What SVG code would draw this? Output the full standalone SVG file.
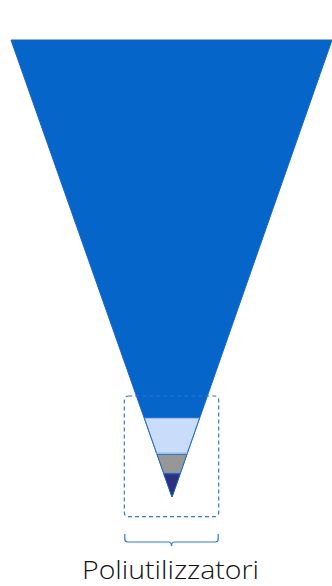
<svg xmlns="http://www.w3.org/2000/svg" width="332" height="586" viewBox="0 0 332 586">
<style>
.seg{stroke:#1565C8;stroke-width:1;stroke-linejoin:miter}
.box{fill:none;stroke:#2F78D2;stroke-width:1.2;stroke-dasharray:4 3}
.brace{fill:none;stroke:#2F78D2;stroke-width:1.2}
.lbl{font-family:"Open Sans","Liberation Sans",sans-serif;font-size:25px;fill:#111111;font-weight:300}
</style>
<rect width="332" height="586" fill="#ffffff"/>
<g id="funnel">
<polygon class="seg" points="11,40 332,40 172,497" fill="#0565C8"/>
<polygon points="144.3,417.8 199.6,417.8 187.2,453.3 156.7,453.3" fill="#C9DCFA" stroke="#1565C8" stroke-width="0.8"/>
<line x1="156.7" y1="453.6" x2="187.2" y2="453.6" stroke="#DDE8FA" stroke-width="1"/>
<polygon points="157,454.2 187,454.2 180.3,473.4 163.8,473.4" fill="#979797" stroke="#1565C8" stroke-width="0.8"/>
<polygon points="163.8,474 180.1,474 172,497" fill="#2E3180" stroke="#1565C8" stroke-width="0.8"/>
</g>
<g id="group-box">
<rect class="box" x="124.3" y="396" width="94.4" height="120.7" rx="4" ry="4"/>
</g>
<g id="brace">
<path class="brace" d="M124.8,534 V539 Q124.8,542 127.8,542 H168.5 Q171.5,542 171.5,546 Q171.5,542 174.5,542 H215.2 Q218.2,542 218.2,539 V534"/>
</g>
<g id="label">
<text class="lbl" x="170.5" y="579" text-anchor="middle" textLength="177" lengthAdjust="spacingAndGlyphs">Poliutilizzatori</text>
</g>
</svg>
